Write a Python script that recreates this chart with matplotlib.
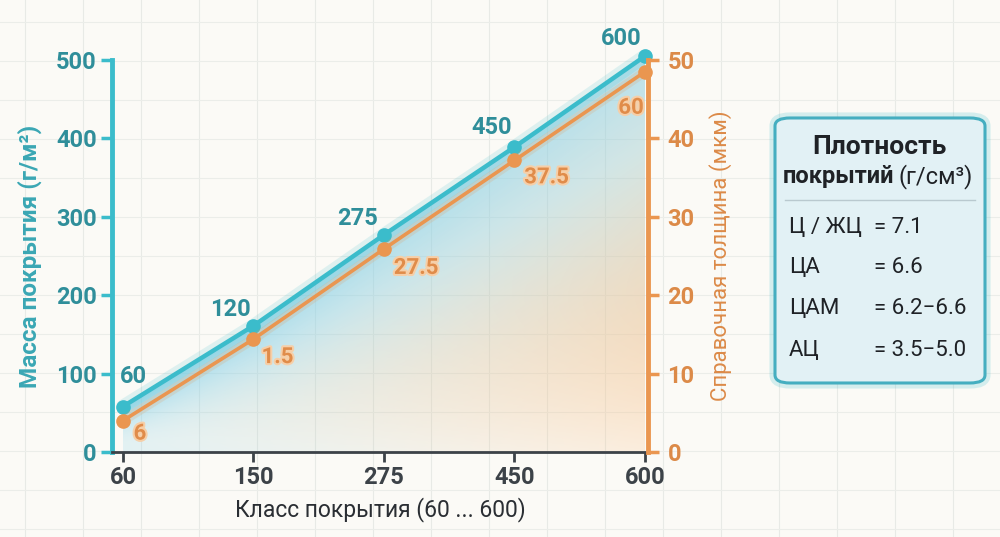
import numpy as np
import matplotlib
matplotlib.use("Agg")
import matplotlib.pyplot as plt
import matplotlib.patheffects as pe
from matplotlib.patches import FancyBboxPatch, Polygon

plt.rcParams['font.family'] = ['Roboto', 'DejaVu Sans']

# данные
classes = ['60', '150', '275', '450', '600']
mass = [58, 161, 277, 389, 505]            # г/м2, левая ось
mass_labels = ['60', '120', '275', '450', '600']
thick = [4.0, 14.4, 25.9, 37.2, 48.5]      # мкм, правая ось
thick_labels = ['6', '1.5', '27.5', '37.5', '60']
density_names = ['Ц / ЖЦ', 'ЦА', 'ЦАМ', 'АЦ']
density_vals = ['= 7.1', '= 6.6', '= 6.2\u22126.6', '= 3.5\u22125.0']

TEAL = '#3bbccb'
TEAL_TXT = '#2f8e9a'
ORANGE = '#ea9650'
ORANGE_TXT = '#dc8a48'
DARK = '#3c4248'

fig = plt.figure(figsize=(10, 5.37), dpi=100)
fig.patch.set_facecolor('#fbfaf6')

# фоновая сетка
bg = fig.add_axes([0, 0, 1, 1], zorder=-5)
bg.set_xlim(0, 1000)
bg.set_ylim(537, 0)
bg.axis('off')
for gx in np.arange(25, 1000, 58):
    bg.axvline(gx, color='#e8eae6', lw=0.8)
for gy in np.arange(22, 537, 39):
    bg.axhline(gy, color='#ebede9', lw=0.8)

ax = fig.add_axes([0.112, 0.1583, 0.536, 0.73])
ax.patch.set_alpha(0)
x = np.arange(len(classes))
ax.set_xlim(-0.084, 4.023)
ax.set_ylim(0, 500)

ax2 = ax.twinx()
ax2.set_ylim(0, 50)

# градиентная заливка под линией
gx_, gy_ = np.meshgrid(np.linspace(0, 4, 300), np.linspace(0, 505, 300))
line_y = np.interp(gx_, x, mass)
t = np.clip(gy_ / line_y, 0, 1)
xf = gx_ / 4
wb = (t ** 1.8) * (1 - 0.3 * xf) * 0.8 + 0.22 * (1 - xf) ** 1.5 * (1 - t)
wo = (xf ** 1.3) * np.clip(1 - t, 0, 1) ** 0.5 * 0.6 * (0.4 + 0.6 * np.sin(np.pi * np.clip(t * 1.3, 0, 1)))
blue = np.array([0.53, 0.82, 0.91])
orng = np.array([0.98, 0.77, 0.56])
tot = wb + wo + 1e-6
rgb = (wb[..., None] * blue + wo[..., None] * orng) / tot[..., None]
alpha = np.clip(wb + wo, 0, 0.85)
img = np.dstack([rgb, alpha])
im = ax.imshow(img, extent=[0, 4, 0, 505], origin='lower', aspect='auto', zorder=1)
poly = Polygon(list(zip(x, mass)) + [(4, 0), (0, 0)], closed=True, transform=ax.transData,
               facecolor='none', edgecolor='none')
ax.add_patch(poly)
im.set_clip_path(poly)

# линии
ax.plot(x, mass, color=TEAL, lw=10, alpha=0.15, zorder=3, solid_capstyle='round', clip_on=False)
ax.plot(x, mass, color=TEAL, lw=3.2, marker='o', ms=9.5, zorder=5, clip_on=False)
ax2.plot(x, thick, color=ORANGE, lw=7, alpha=0.18, zorder=3, clip_on=False)
ax2.plot(x, thick, color=ORANGE, lw=2.6, marker='o', ms=9.5, zorder=4, clip_on=False)

# подписи точек
m_off = [(10, 30), (-23, 16), (-26, 16), (-23, 20), (-24, 18)]
for xi, yi, lab, off in zip(x, mass, mass_labels, m_off):
    ax.annotate(lab, (xi, yi), xytext=off, textcoords='offset pixels', ha='center', va='center',
                fontsize=17, fontweight='bold', color=TEAL_TXT, zorder=6, annotation_clip=False)
t_off = [(17, -13), (24, -18), (32, -19), (32, -17), (-14, -36)]
for xi, yi, lab, off in zip(x, thick, thick_labels, t_off):
    ax2.annotate(lab, (xi, yi), xytext=off, textcoords='offset pixels', ha='center', va='center',
                 fontsize=16, fontweight='bold', color='#e08c4a', zorder=6, annotation_clip=False,
                 path_effects=[pe.withStroke(linewidth=3, foreground='#f6cfa8')])

# оси
ax.spines['top'].set_visible(False)
ax2.spines['top'].set_visible(False)
ax.spines['right'].set_visible(False)
ax.spines['left'].set_color(TEAL)
ax.spines['left'].set_linewidth(3.5)
ax.spines['bottom'].set_color(DARK)
ax.spines['bottom'].set_linewidth(2)
ax2.spines['left'].set_visible(False)
ax2.spines['bottom'].set_visible(False)
ax2.spines['right'].set_color(ORANGE)
ax2.spines['right'].set_linewidth(3.5)

ax.set_xticks(x)
ax.set_xticklabels(classes)
ax.tick_params(axis='x', colors=DARK, length=7, width=2, labelsize=17, pad=3)
ax.set_yticks([0, 100, 200, 300, 400, 500])
ax.tick_params(axis='y', colors=TEAL, length=8, width=2.5, labelsize=17, pad=3, labelcolor=TEAL_TXT)
ax2.set_yticks([0, 10, 20, 30, 40, 50])
ax2.tick_params(axis='y', colors=ORANGE, length=8, width=2.5, labelsize=17, pad=6, labelcolor=ORANGE_TXT)
for lab in ax.get_xticklabels() + ax.get_yticklabels() + ax2.get_yticklabels():
    lab.set_fontweight('bold')

ax.set_xlabel('Класс покрытия (60 ... 600)', fontsize=16.5, color='#2a2e33', labelpad=6)
ax.set_ylabel('Масса покрытия (г/м²)', fontsize=17.5, fontweight='bold', color='#3aa7b4', labelpad=10)
ax2.set_ylabel('Справочная толщина (мкм)', fontsize=16, color=ORANGE_TXT, labelpad=10)

# справочная таблица плотностей
glow = FancyBboxPatch((0.775, 0.2868), 0.21, 0.4935, boxstyle='round,pad=0,rounding_size=0.015',
                      transform=fig.transFigure, facecolor='none', edgecolor=TEAL, lw=8, alpha=0.2)
box = FancyBboxPatch((0.775, 0.2868), 0.21, 0.4935, boxstyle='round,pad=0,rounding_size=0.015',
                     transform=fig.transFigure, facecolor='#e2f1f5', edgecolor='#45aec0', lw=2.2)
fig.patches.extend([glow, box])

def fy(py):
    return 1 - py / 537

fig.text(0.879, fy(147), 'Плотность', ha='center', va='center', fontsize=19, fontweight='bold', color='#1f2226')
fig.text(0.894, fy(177), 'покрытий', ha='right', va='center', fontsize=17, fontweight='bold', color='#1f2226')
fig.text(0.898, fy(177), '(г/см³)', ha='left', va='center', fontsize=17, color='#1f2226')
fig.add_artist(plt.Line2D([0.785, 0.975], [fy(200), fy(200)], transform=fig.transFigure,
                          color='#b9c9cf', lw=1))
for i, (nm, val) in enumerate(zip(density_names, density_vals)):
    yy = fy(227 + i * 41)
    fig.text(0.789, yy, nm, ha='left', va='center', fontsize=16, color='#1f2226')
    fig.text(0.874, yy, val, ha='left', va='center', fontsize=16, color='#1f2226')

fig.savefig('out.png', dpi=100, facecolor=fig.get_facecolor())
